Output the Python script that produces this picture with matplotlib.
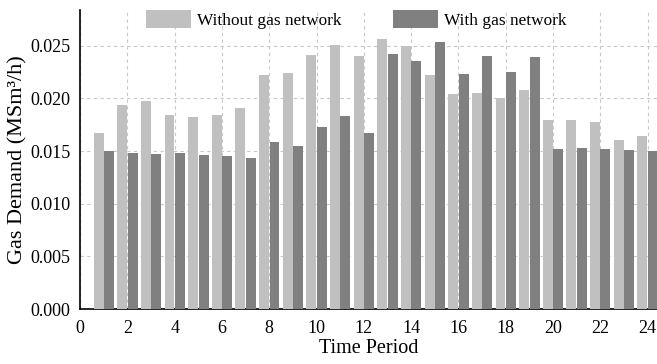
import numpy as np
import matplotlib.pyplot as plt

plt.rcParams["font.family"] = ["Liberation Serif", "DejaVu Serif"]

# ── DATA ─────────────────────────────────────────────────────────
periods = np.arange(1, 25)
without_gas = [0.0167, 0.0194, 0.0197, 0.0184, 0.0182, 0.0184, 0.0191, 0.0222,
               0.0224, 0.0241, 0.0251, 0.0240, 0.0256, 0.0250, 0.0222, 0.0204,
               0.0205, 0.0200, 0.0208, 0.0179, 0.0179, 0.0178, 0.0160, 0.0164]
with_gas = [0.0150, 0.0148, 0.0147, 0.0148, 0.0146, 0.0145, 0.0143, 0.0159,
            0.0155, 0.0173, 0.0183, 0.0167, 0.0242, 0.0235, 0.0253, 0.0223,
            0.0240, 0.0225, 0.0239, 0.0152, 0.0153, 0.0152, 0.0151, 0.0150]
x_ticks = np.arange(0, 25, 2)
y_ticks = [0.000, 0.005, 0.010, 0.015, 0.020, 0.025]

# ── PLOT ─────────────────────────────────────────────────────────
fig = plt.figure(figsize=(6.57, 3.64), dpi=100)
ax = fig.add_axes([0.122, 0.151, 0.878, 0.822])

w = 0.42
ax.bar(periods - 0.22, without_gas, width=w, color="#c0c0c0",
       label="Without gas network", zorder=3)
ax.bar(periods + 0.22, with_gas, width=w, color="#808080",
       label="With gas network", zorder=3)

ax.set_xlim(0, 24.4)
ax.set_ylim(0, 0.0284)
ax.set_xticks(x_ticks)
ax.set_yticks(y_ticks)
ax.set_yticklabels([f"{v:.3f}" for v in y_ticks])
ax.tick_params(length=0, labelsize=13)
ax.tick_params(axis="x", pad=8)
ax.tick_params(axis="y", pad=7)
ax.set_xlabel("Time Period", fontsize=14.5, labelpad=1)
ax.set_ylabel("Gas Demand (MSm\u00b3/h)", fontsize=16, labelpad=2)

ax.grid(True, linestyle=(0, (3, 3)), color="#c8c8c8", linewidth=0.8, zorder=0)
for side in ["top", "right"]:
    ax.spines[side].set_visible(False)
ax.spines["left"].set_linewidth(1.2)
ax.spines["bottom"].set_linewidth(1.2)

ax.legend(loc="upper center", bbox_to_anchor=(0.479, 1.052), ncol=2, frameon=False,
          fontsize=12.4, handlelength=2.6, handleheight=1.28, columnspacing=3.0,
          handletextpad=0.35)

plt.savefig("out.png", dpi=100)
